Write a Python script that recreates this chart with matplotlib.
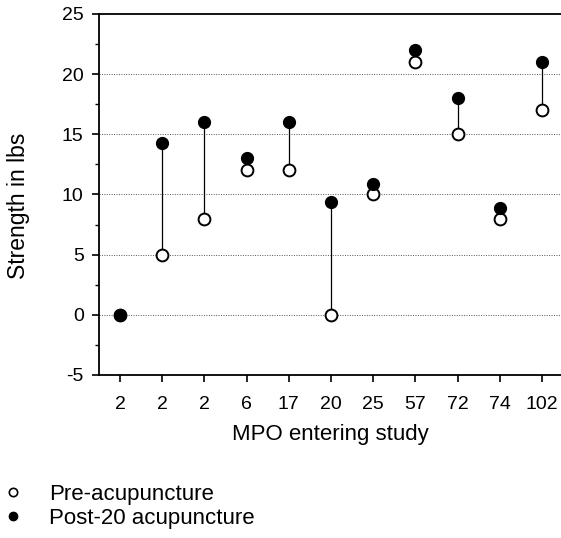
import matplotlib.pyplot as plt
from matplotlib.lines import Line2D
from matplotlib.ticker import MultipleLocator

# MPO (months post onset) at study entry, one per patient
mpo = ['2', '2', '2', '6', '17', '20', '25', '57', '72', '74', '102']
pre = [0, 5, 8, 12, 12, 0, 10, 21, 15, 8, 17]
post = [0, 14.25, 16, 13, 16, 9.4, 10.85, 22, 18, 8.9, 21]

plt.rcParams['font.family'] = ['Liberation Sans', 'DejaVu Sans']
plt.rcParams['axes.unicode_minus'] = False

fig = plt.figure(figsize=(5.61, 5.38), dpi=100)
ax = fig.add_axes([0.1765, 0.303, 0.8235, 0.671])

x = list(range(len(mpo)))

# dotted horizontal guides
for yv in [0, 5, 10, 15, 20]:
    ax.axhline(yv, color='#555555', lw=0.7, ls=(0, (1, 1.5)), zorder=0)

# connecting lines
ax.vlines(x, pre, post, color='black', lw=0.9, zorder=1)

ax.plot(x, pre, 'o', ms=8.5, mfc='white', mec='black', mew=1.4, zorder=2)
ax.plot(x, post, 'o', ms=8.5, mfc='black', mec='black', mew=1.0, zorder=3)

ax.set_xlim(-0.5, 10.45)
ax.set_ylim(-5, 25)
ax.set_xticks(x)
ax.set_xticklabels(mpo)
ax.yaxis.set_major_locator(MultipleLocator(5))
ax.yaxis.set_minor_locator(MultipleLocator(2.5))

ax.spines['right'].set_visible(False)
for s in ['top', 'left', 'bottom']:
    ax.spines[s].set_linewidth(1.3)

ax.tick_params(axis='both', which='major', direction='out', length=5, width=1.2,
               labelsize=14, pad=6)
ax.tick_params(axis='y', which='minor', direction='out', length=3, width=1.0)
ax.tick_params(axis='x', pad=10)

ax.set_xlabel('MPO entering study', fontsize=16, labelpad=8)
ax.set_ylabel('Strength in lbs', fontsize=16.5)
ax.yaxis.set_label_coords(-0.15, 0.47)

handles = [
    Line2D([], [], marker='o', ls='none', ms=6, mfc='white', mec='black', mew=1.2),
    Line2D([], [], marker='o', ls='none', ms=6, mfc='black', mec='black'),
]
fig.legend(handles, ['Pre-acupuncture', 'Post-20 acupuncture'],
           loc='upper left', bbox_to_anchor=(0.0, 0.1), frameon=False,
           fontsize=16, handletextpad=1.0, labelspacing=0.12,
           borderaxespad=0, borderpad=0, handlelength=1.2)

fig.savefig('out.png', dpi=100)
